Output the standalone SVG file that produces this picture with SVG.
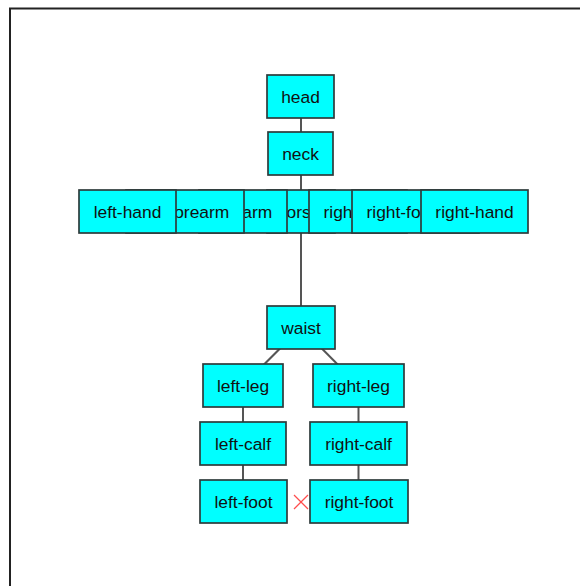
<svg xmlns="http://www.w3.org/2000/svg" width="580" height="586" viewBox="0 0 580 586">
<style>
.n rect{fill:#00ffff;stroke:#2e3b3b;stroke-width:1.7}
.n text{font-family:"Liberation Sans",Arial,sans-serif;font-size:17.4px;fill:#111;text-anchor:middle}
.n text.s{text-anchor:start}
.c line{stroke:#555;stroke-width:2}
.x line{stroke:#ff4d4d;stroke-width:1.3}
</style>
<rect x="0" y="0" width="580" height="586" fill="#fff"/>
<rect x="10" y="8.5" width="620" height="620" fill="#fff" stroke="#222" stroke-width="2"/>
<g id="connectors" class="c">
<line x1="301" y1="96" x2="301" y2="153"/>
<line x1="301" y1="153" x2="301" y2="211"/>
<line x1="301" y1="211" x2="301" y2="327"/>
<line x1="301" y1="327.5" x2="243" y2="385.5"/>
<line x1="301" y1="327.5" x2="358.5" y2="385.5"/>
<line x1="243" y1="385" x2="243" y2="443"/>
<line x1="243" y1="443" x2="243" y2="501"/>
<line x1="358.5" y1="385" x2="358.5" y2="443"/>
<line x1="358.5" y1="443" x2="358.5" y2="501"/>
</g>
<g id="torso" class="n"><rect x="267" y="190" width="68" height="43"/><text class="s" x="286.6" y="218">ors</text></g>
<g id="left-arm" class="n"><rect x="199" y="190" width="88" height="43"/><text class="s" x="242.3" y="218">arm</text></g>
<g id="right-arm" class="n"><rect x="309" y="190" width="98" height="43"/><text class="s" x="323.5" y="218">righ</text></g>
<g id="left-forearm" class="n"><rect x="126" y="190" width="118" height="43"/><text class="s" x="174.2" y="218">orearm</text></g>
<g id="right-forearm" class="n"><rect x="352" y="190" width="127" height="43"/><text class="s" x="366.5" y="218">right-fo</text></g>
<g id="left-hand" class="n"><rect x="79" y="190" width="97" height="43"/><text x="127.5" y="218">left-hand</text></g>
<g id="right-hand" class="n"><rect x="421" y="190" width="107" height="43"/><text x="474.5" y="218">right-hand</text></g>
<g id="head" class="n"><rect x="267" y="75" width="67" height="43"/><text x="300.5" y="103">head</text></g>
<g id="neck" class="n"><rect x="268" y="132" width="65" height="43"/><text x="300.5" y="160">neck</text></g>
<g id="waist" class="n"><rect x="267" y="306" width="68" height="43"/><text x="301" y="334">waist</text></g>
<g id="left-leg" class="n"><rect x="203" y="364" width="80" height="43"/><text x="243" y="392">left-leg</text></g>
<g id="right-leg" class="n"><rect x="313" y="364" width="91" height="43"/><text x="358.5" y="392">right-leg</text></g>
<g id="left-calf" class="n"><rect x="200" y="422" width="86" height="43"/><text x="243" y="450">left-calf</text></g>
<g id="right-calf" class="n"><rect x="310" y="422" width="97" height="43"/><text x="358.5" y="450">right-calf</text></g>
<g id="left-foot" class="n"><rect x="200" y="480" width="87" height="43"/><text x="243.5" y="508">left-foot</text></g>
<g id="right-foot" class="n"><rect x="310" y="480" width="98" height="43"/><text x="359" y="508">right-foot</text></g>
<g id="mark" class="x"><line x1="294" y1="495" x2="308" y2="509"/><line x1="308" y1="495" x2="294" y2="509"/></g>
</svg>
